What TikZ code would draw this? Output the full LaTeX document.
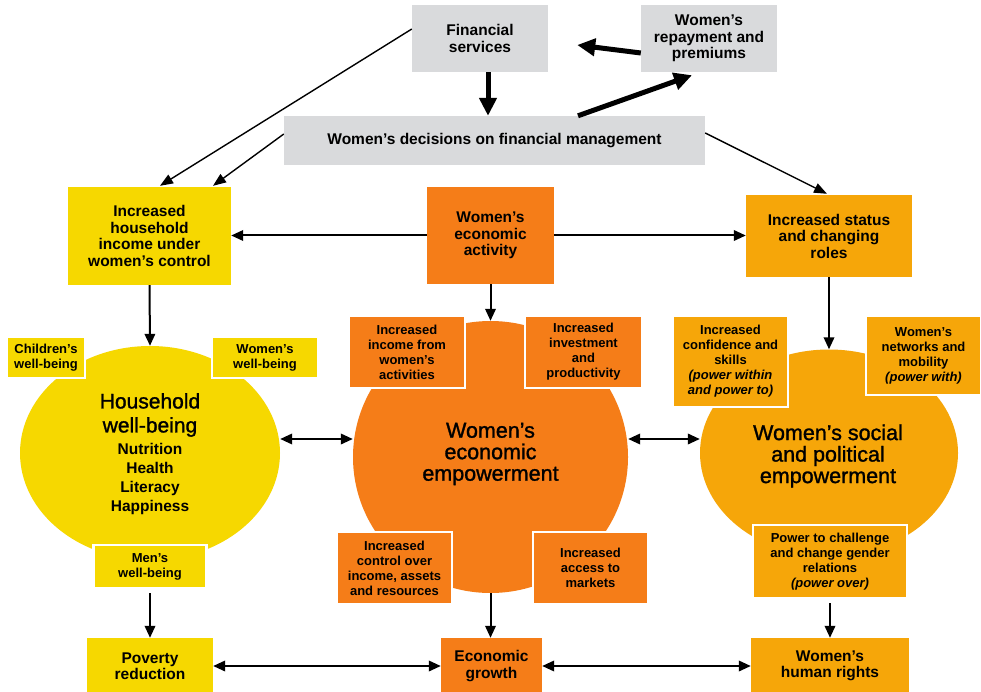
\documentclass[tikz,border=0pt]{standalone}
\usepackage{fontspec}
\setmainfont{Liberation Sans}
\newfontfamily\mediumfont{Liberation Sans}[FakeBold=1.3,Ligatures=TeX]
\usetikzlibrary{arrows.meta,shapes.geometric,calc}
\definecolor{fgrey}{HTML}{D9DADC}
\definecolor{fyellow}{HTML}{F6D800}
\definecolor{forange}{HTML}{F57D18}
\definecolor{fgold}{HTML}{F6A609}
\newcommand\myMed{\bfseries\fontsize{15.5}{16.5}\selectfont}
\newcommand\mySmall{\bfseries\fontsize{13}{15}\selectfont}
\newcommand\myBig{\mediumfont\fontsize{21.5}{21.5}\selectfont}
\newcommand\myList{\bfseries\fontsize{15.5}{18.7}\selectfont}
\newcommand\myHead{\mediumfont\fontsize{21}{24}\selectfont}
\begin{document}
\begin{tikzpicture}[x=1pt,y=-1pt,
  box/.style={rectangle, inner sep=0pt, align=center, font=\myMed, text=black},
  subbox/.style={box, draw=white, line width=2.5pt, font=\mySmall},
  blob/.style={ellipse, inner sep=0pt},
  lbl/.style={inner sep=0pt, align=center, text=black},
  arr/.style={line width=2pt, -{Triangle[length=12pt,width=10.5pt]}},
  dbl/.style={line width=2pt, {Triangle[length=12pt,width=10.5pt]}-{Triangle[length=12pt,width=10.5pt]}},
  thinarr/.style={line width=1.4pt, -{Triangle[length=13pt,width=10pt]}},
  thickarr/.style={line width=5pt, -{Triangle[length=18pt,width=17pt]}}
]
\useasboundingbox (0,0) rectangle (981,692);
\fill[white] (0,0) rectangle (981,692);

% blobs
\node[blob, fill=fyellow, minimum width=260pt, minimum height=214pt] (hw) at (150,453) {};
\node[blob, fill=forange, minimum width=275pt, minimum height=272pt] (ew) at (490.5,457) {};
\node[blob, fill=fgold, minimum width=258pt, minimum height=207pt] (sw) at (829,453) {};

% top boxes
\node[box, fill=fgrey, minimum width=136pt, minimum height=67pt] (fs) at (480,38.5) {Financial\\services};
\node[box, fill=fgrey, minimum width=136pt, minimum height=67pt] (rp) at (709,38.5) {Women's\\repayment and\\premiums};
\node[box, fill=fgrey, minimum width=421pt, minimum height=49pt] (dec) at (494.5,140.5) {Women's decisions on financial management};

% second row
\node[box, fill=fyellow, minimum width=163pt, minimum height=98pt] (hi) at (149.5,236) {Increased\\household\\income under\\women's control};
\node[box, fill=forange, minimum width=127pt, minimum height=97pt] (ea) at (490.5,235.5) {Women's\\economic\\activity};
\node[box, fill=fgold, minimum width=166pt, minimum height=82pt] (st) at (829,236) {Increased status\\and changing\\roles};

% household sub-boxes
\node[subbox, fill=fyellow, minimum width=78pt, minimum height=41pt] (cw) at (46,357.5) {Children's\\well-being};
\node[subbox, fill=fyellow, minimum width=106pt, minimum height=41pt] (ww) at (265,357.5) {Women's\\well-being};
\node[subbox, fill=fyellow, minimum width=113pt, minimum height=43pt] (mw) at (150,566.5) {Men's\\well-being};

% economic sub-boxes
\node[subbox, fill=forange, minimum width=116pt, minimum height=72pt] (ii) at (407,352) {Increased\\income from\\women's\\activities};
\node[subbox, fill=forange, minimum width=117pt, minimum height=72pt] (ip) at (583.5,352) {Increased\\investment\\and\\productivity};
\node[subbox, fill=forange, minimum width=115pt, minimum height=72pt] (ic) at (394.5,568) {Increased\\control over\\income, assets\\and resources};
\node[subbox, fill=forange, minimum width=115pt, minimum height=72pt] (im) at (590.5,568) {Increased\\access to\\markets};

% social sub-boxes
\node[subbox, fill=fgold, minimum width=115pt, minimum height=91pt] (cs) at (730.5,361.5) {Increased\\confidence and\\skills\\\textit{(power within}\\\textit{and power to)}};
\node[subbox, fill=fgold, minimum width=115pt, minimum height=79pt] (nm) at (923.5,355.5) {Women's\\networks and\\mobility\\\textit{(power with)}};
\node[subbox, fill=fgold, minimum width=154pt, minimum height=73pt] (pc) at (830,561.5) {Power to challenge\\and change gender\\relations\\\textit{(power over)}};

% bottom boxes
\node[box, fill=fyellow, minimum width=126pt, minimum height=56pt] (pov) at (150,666) {Poverty\\reduction};
\node[box, fill=forange, minimum width=101pt, minimum height=56pt] (gr) at (491.5,666) {Economic\\growth};
\node[box, fill=fgold, minimum width=158pt, minimum height=56pt] (rt) at (830,666) {Women's\\human rights};

% blob labels
\node[lbl, font=\myHead] (hwa) at (150,415) {Household\\well-being};
\node[lbl, font=\myList] (hwb) at (150,479) {Nutrition\\Health\\Literacy\\Happiness};
\node[lbl, font=\myBig] (ewt) at (490.5,454) {Women's\\economic\\empowerment};
\node[lbl, font=\myBig] (swt) at (828,456) {Women's social\\and political\\empowerment};

% top connectors
\draw[thickarr] (fs.south -| 488,0) -- (dec.north -| 488,0);
\draw[thickarr] ([yshift=-14.5pt]rp.west) -- ([xshift=29pt,yshift=-6.5pt]fs.east);
\draw[thickarr] ([xshift=83.5pt]dec.north) -- ([xshift=-17pt,yshift=-3pt]rp.south);
\draw[thinarr] ([yshift=9.5pt]fs.west) -- ([xshift=10.5pt,yshift=1pt]hi.north);
\draw[thinarr] ([yshift=6.5pt]dec.west) -- ([xshift=63.5pt,yshift=1pt]hi.north);
\draw[thinarr] ([yshift=7.5pt]dec.east) -- ([xshift=-2pt,yshift=1pt]st.north);

% second row connectors
\draw[arr] (ea.west) -- (ea.west -| hi.east);
\draw[arr] (ea.east) -- (ea.east -| st.west);
\draw[arr] (hi.south) -- (hw.north);
\draw[arr] (ea.south) -- (ew.north);
\draw[arr] (st.south) -- (sw.north);

% blob connectors
\draw[dbl] ([yshift=14pt]hw.east) -- ([yshift=18pt]ew.west);
\draw[dbl] ([yshift=18pt]ew.east) -- ([yshift=14pt]sw.west);

% lower connectors
\draw[arr, shorten <=4pt] (mw.south) -- (pov.north);
\draw[arr] (ew.south) -- (ew.south |- gr.north);
\draw[arr, shorten <=4pt] (pc.south) -- (rt.north);
\draw[dbl] (gr.west -| pov.east) -- (gr.west);
\draw[dbl] (gr.east) -- (gr.east -| rt.west);
\end{tikzpicture}
\end{document}
